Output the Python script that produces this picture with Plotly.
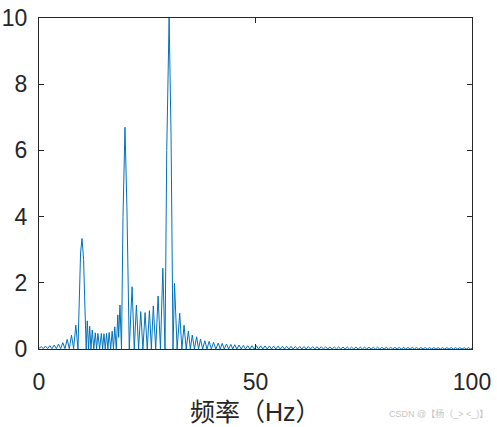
import plotly.graph_objects as go

# spectrum: lobe peaks with the nulls between them
freq = [
    # 0 - 9 Hz
    0.0, 0.5, 1.0, 1.5, 2.0, 2.5, 3.0, 3.5, 4.0, 4.5, 5.0, 5.5, 6.0, 6.5,
    7.0, 7.5, 8.0, 8.5, 9.0,
    # 10 Hz peak and the lobes up to 19 Hz
    9.3, 9.6, 9.93, 10.3, 10.6, 10.9, 11.15, 11.45, 11.7, 12.0, 12.3, 12.65,
    13.0, 13.3, 13.6, 14.0, 14.4, 14.7, 15.0, 15.3, 15.6, 15.9, 16.2, 16.55,
    16.9, 17.2, 17.5, 17.85, 18.2, 18.4, 18.7, 19.05,
    # 20 Hz peak and the lobes up to 29 Hz
    19.4, 19.86, 20.3, 20.85, 21.5, 22.0, 22.5, 23.0, 23.5, 24.0, 24.5, 25.0,
    25.5, 25.95, 26.4, 26.95, 27.5, 28.05, 28.6, 29.1,
    # 30 Hz peak and the lobes up to 49 Hz
    29.5, 30.05, 30.5, 30.95, 31.3, 31.9, 32.5, 33.0, 33.5, 34.0, 34.5, 34.95,
    35.4, 35.9, 36.4, 36.85, 37.3, 37.8, 38.3, 38.8, 39.3, 39.8, 40.3, 40.85,
    41.4, 41.85, 42.3, 42.8, 43.3, 43.8, 44.3, 44.75, 45.2, 45.7, 46.2, 46.7,
    47.2, 47.7, 48.2, 48.7,
    # tail 49 - 100 Hz
    49.2, 49.7, 50.2, 50.7, 51.2, 51.7, 52.2, 52.7, 53.2, 53.7, 54.2, 54.7,
    55.2, 55.7, 56.2, 56.7, 57.2, 57.7, 58.2, 58.7, 59.2, 59.7, 60.2, 60.7,
    61.2, 61.7, 62.2, 62.7, 63.2, 63.7, 64.2, 64.7, 65.2, 65.7, 66.2, 66.7,
    67.2, 67.7, 68.2, 68.7, 69.2, 69.7, 70.2, 70.7, 71.2, 71.7, 72.2, 72.7,
    73.2, 73.7, 74.2, 74.7, 75.2, 75.7, 76.2, 76.7, 77.2, 77.7, 78.2, 78.7,
    79.2, 79.7, 80.2, 80.7, 81.2, 81.7, 82.2, 82.7, 83.2, 83.7, 84.2, 84.7,
    85.2, 85.7, 86.2, 86.7, 87.2, 87.7, 88.2, 88.7, 89.2, 89.7, 90.2, 90.7,
    91.2, 91.7, 92.2, 92.7, 93.2, 93.7, 94.2, 94.7, 95.2, 95.7, 96.2, 96.7,
    97.2, 97.7, 98.2, 98.7, 99.2, 99.7, 100.0,
]

amp = [
    # 0 - 9 Hz
    0.02, 0.07, 0.01, 0.09, 0.01, 0.10, 0.01, 0.12, 0.01, 0.15, 0.01, 0.19,
    0.01, 0.29, 0.01, 0.42, 0.01, 0.72, 0.0,
    # 10 Hz peak and the lobes up to 19 Hz
    1.6, 2.9, 3.34, 2.7, 1.3, 0.0, 0.85, 0.0, 0.69, 0.0, 0.57, 0.0,
    0.49, 0.0, 0.47, 0.0, 0.47, 0.0, 0.46, 0.0, 0.47, 0.0, 0.50, 0.0,
    0.54, 0.0, 0.67, 0.0, 1.03, 0.35, 1.33, 0.0,
    # 20 Hz peak and the lobes up to 29 Hz
    4.0, 6.7, 4.3, 0.0, 1.88, 0.0, 1.33, 0.0, 1.13, 0.0, 1.10, 0.0,
    1.16, 0.0, 1.30, 0.0, 1.60, 0.0, 2.44, 0.0,
    # 30 Hz peak and the lobes up to 49 Hz
    6.0, 10.0, 6.4, 0.0, 1.98, 0.0, 1.08, 0.0, 0.72, 0.0, 0.54, 0.0,
    0.42, 0.0, 0.37, 0.0, 0.30, 0.0, 0.25, 0.0, 0.23, 0.0, 0.20, 0.0,
    0.18, 0.0, 0.17, 0.0, 0.15, 0.0, 0.14, 0.0, 0.13, 0.0, 0.12, 0.0,
    0.11, 0.0, 0.10, 0.0,
    # tail 49 - 100 Hz
    0.100, 0.0, 0.100, 0.0, 0.095, 0.0, 0.093, 0.0, 0.090, 0.0, 0.088, 0.0,
    0.086, 0.0, 0.083, 0.0, 0.081, 0.0, 0.079, 0.0, 0.077, 0.0, 0.075, 0.0,
    0.073, 0.0, 0.072, 0.0, 0.070, 0.0, 0.068, 0.0, 0.067, 0.0, 0.065, 0.0,
    0.064, 0.0, 0.063, 0.0, 0.061, 0.0, 0.060, 0.0, 0.059, 0.0, 0.058, 0.0,
    0.057, 0.0, 0.056, 0.0, 0.055, 0.0, 0.054, 0.0, 0.053, 0.0, 0.052, 0.0,
    0.051, 0.0, 0.050, 0.0, 0.050, 0.0, 0.049, 0.0, 0.048, 0.0, 0.047, 0.0,
    0.047, 0.0, 0.046, 0.0, 0.045, 0.0, 0.045, 0.0, 0.044, 0.0, 0.043, 0.0,
    0.043, 0.0, 0.042, 0.0, 0.042, 0.0, 0.041, 0.0, 0.041, 0.0, 0.040, 0.0,
    0.040, 0.0, 0.039, 0.0, 0.039, 0.0, 0.03,
]

x_ticks = [0, 50, 100]
y_ticks = [0, 2, 4, 6, 8, 10]

AXIS_COLOR = "#262626"
FONT = "Liberation Sans, Arial, Noto Sans CJK SC"

fig = go.Figure()

fig.add_scatter(
    x=freq,
    y=amp,
    mode="lines",
    line=dict(color="#0072BD", width=1),
    showlegend=False,
)

axis_style = dict(
    showline=True,
    linecolor=AXIS_COLOR,
    linewidth=1,
    mirror="ticks",
    ticks="inside",
    ticklen=5,
    tickcolor=AXIS_COLOR,
    showgrid=False,
    zeroline=False,
    automargin=False,
    ticklabeloverflow="allow",
    tickfont=dict(family=FONT, size=23, color=AXIS_COLOR),
)

fig.update_xaxes(axis_style, range=[0, 100], tickvals=x_ticks, ticklabelstandoff=12)
fig.update_yaxes(axis_style, range=[0, 10], tickvals=y_ticks, ticklabelstandoff=6)

fig.add_annotation(
    text="频率（Hz）",
    xref="paper", yref="paper",
    x=0.5, y=-0.19,
    xanchor="center", yanchor="middle",
    showarrow=False,
    font=dict(family=FONT, size=25, color=AXIS_COLOR),
)

fig.add_annotation(
    text="CSDN @【杨（_> <_)】",
    xref="paper", yref="paper",
    x=1.042, y=-0.195,
    xanchor="right", yanchor="middle",
    showarrow=False,
    font=dict(family=FONT, size=9, color="#c4c4c4"),
)

fig.update_layout(
    width=497,
    height=427,
    margin=dict(l=39, r=25, t=18, b=78),
    paper_bgcolor="white",
    plot_bgcolor="white",
)

# drop the default body margin so the figure fills the window
fig.write_html(
    "out.html",
    config={"displayModeBar": False},
    post_script="document.body.style.margin = '0';",
)
